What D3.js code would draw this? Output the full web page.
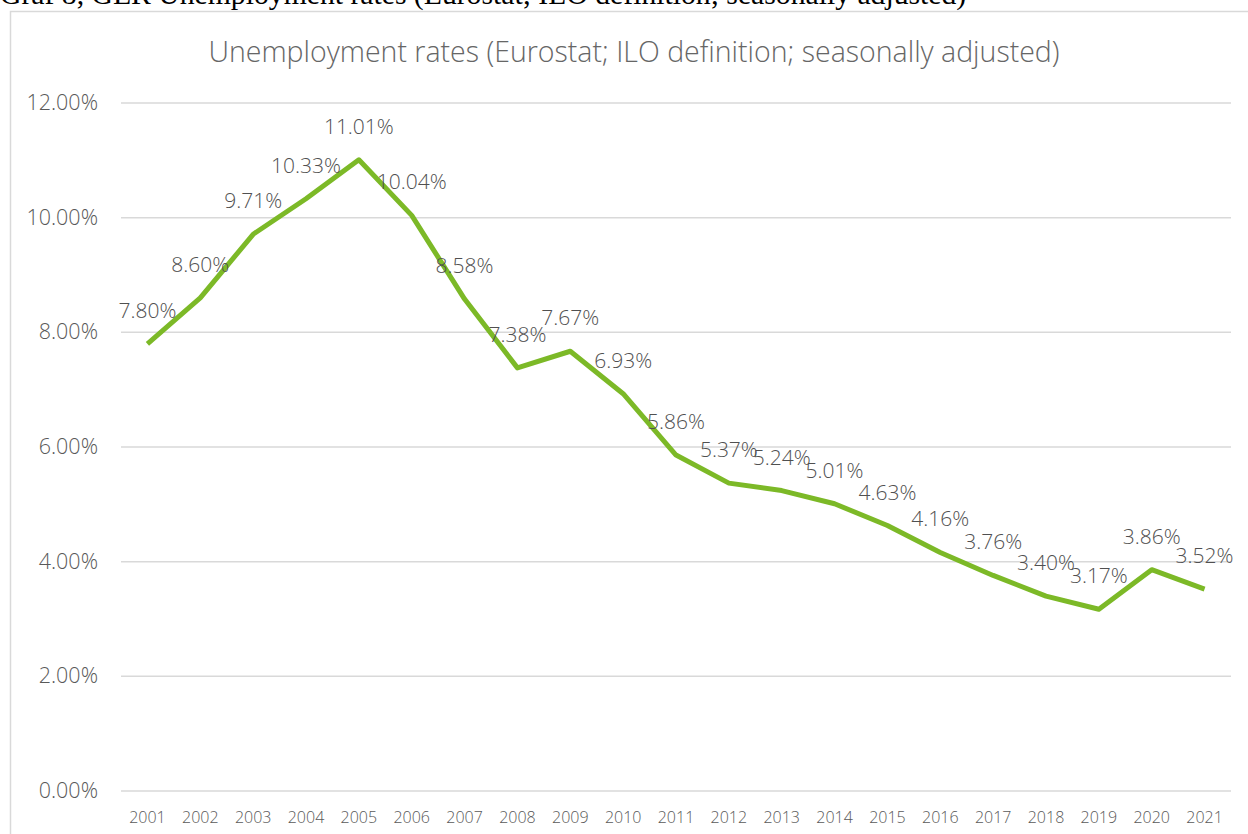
<!DOCTYPE html>
<html lang="en">
<head>
<meta charset="UTF-8">
<title>Unemployment rates</title>
<style>
  body { margin: 0; background: #fff; }
  svg { display: block; }
</style>
</head>
<body>
<div id="chart"></div>
<script src="https://d3js.org/d3.v7.min.js"></script>
<script>
// data
const years = ["2001","2002","2003","2004","2005","2006","2007","2008","2009","2010","2011",
               "2012","2013","2014","2015","2016","2017","2018","2019","2020","2021"];
const rates = [7.80, 8.60, 9.71, 10.33, 11.01, 10.04, 8.58, 7.38, 7.67, 6.93, 5.86,
               5.37, 5.24, 5.01, 4.63, 4.16, 3.76, 3.40, 3.17, 3.86, 3.52];
const yTicks = [0, 2, 4, 6, 8, 10, 12];

const W = 1248, H = 834;
const plot = { left: 121, right: 1231, top: 103, bottom: 791 };
const sans = "'Open Sans', 'Noto Sans', sans-serif";

const svg = d3.select("#chart").append("svg")
  .attr("width", W).attr("height", H);

// caption above the chart box (cut off at the top like the source)
svg.append("text")
  .attr("x", 0).attr("y", 4)
  .style("font-family", "'Liberation Serif', 'Times New Roman', serif")
  .style("font-size", "29.7px")
  .style("fill", "#000")
  .text("Graf 8, GER Unemployment rates (Eurostat; ILO definition; seasonally adjusted)");

// chart frame
svg.append("path")
  .attr("d", `M10.5,${H} V11.5 H${W}`)
  .attr("fill", "none")
  .attr("stroke", "#d9d9d9")
  .attr("stroke-width", 1.5);

// title
svg.append("text")
  .attr("x", 634).attr("y", 62)
  .attr("text-anchor", "middle")
  .style("font-family", sans)
  .style("font-weight", 300)
  .style("font-size", "28.5px")
  .style("fill", "#666")
  .text("Unemployment rates (Eurostat; ILO definition; seasonally adjusted)");

const x = d3.scalePoint().domain(years).range([plot.left, plot.right]).padding(0.5);
const y = d3.scaleLinear().domain([0, 12]).range([plot.bottom, plot.top]);

// gridlines
svg.append("g").selectAll("line")
  .data(yTicks)
  .join("line")
  .attr("x1", plot.left).attr("x2", plot.right)
  .attr("y1", d => y(d)).attr("y2", d => y(d))
  .attr("stroke", "#d9d9d9")
  .attr("stroke-width", 1.5);

// y axis labels
svg.append("g").selectAll("text")
  .data(yTicks)
  .join("text")
  .attr("x", 98).attr("y", d => y(d) + 7)
  .attr("text-anchor", "end")
  .style("font-family", sans)
  .style("font-weight", 300)
  .style("font-size", "21.5px")
  .style("fill", "#595959")
  .text(d => d.toFixed(2) + "%");

// x axis labels
svg.append("g").selectAll("text")
  .data(years)
  .join("text")
  .attr("x", d => x(d)).attr("y", 823)
  .attr("text-anchor", "middle")
  .style("font-family", sans)
  .style("font-weight", 300)
  .style("font-size", "16px")
  .style("fill", "#595959")
  .text(d => d);

// line
const line = d3.line()
  .x((d, i) => x(years[i]))
  .y(d => y(d));

svg.append("path")
  .datum(rates)
  .attr("d", line)
  .attr("fill", "none")
  .attr("stroke", "#7cb927")
  .attr("stroke-width", 5)
  .attr("stroke-linejoin", "round");

// data labels
svg.append("g").selectAll("text")
  .data(rates)
  .join("text")
  .attr("x", (d, i) => x(years[i]))
  .attr("y", d => y(d) - 26)
  .attr("text-anchor", "middle")
  .style("font-family", sans)
  .style("font-weight", 300)
  .style("font-size", "21px")
  .style("fill", "#505050")
  .text(d => d.toFixed(2) + "%");
</script>
</body>
</html>
